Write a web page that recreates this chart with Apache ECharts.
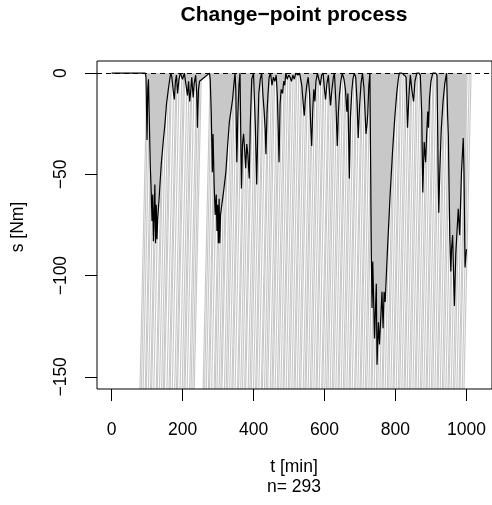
<!DOCTYPE html>
<html><head><meta charset="utf-8">
<script src="https://cdn.jsdelivr.net/npm/echarts@6/dist/echarts.min.js"></script>
<style>html,body{margin:0;padding:0;background:#fff}#c{width:492px;height:505px}</style>
</head><body><div id="c"></div>
<script>
// ---- data ----
const xTicks = [0, 200, 400, 600, 800, 1000];
const yTicks = [0, -50, -100, -150];
const titleText = 'Change\u2212point process';
const xName = 't [min]';
const nText = 'n= 293';
const yName = 's [Nm]';

// process s(t): [t (min), s (Nm)]
const processPoints = [
  [0,0],[30,0],[60,0],[85,0],[95,0],
  [97,-2],[100,-33],[102,-8],[104,-3],[106,-20],[109,-45],[112,-60],[114,-73],[116,-60],[118,-83],[120,-70],[122,-55],[124,-84],[126,-65],[128,-82],[130,-72],[134,-62],[140,-45],[146,-33],[150,-26],[155,-15],[160,-8],[164,-3],[167,0],
  [170,-2],[174,-9],[177,-13],[180,-4],[183,-1],[186,-10],[190,-3],[194,0],[200,-3],[205,0],[210,-6],[214,-11],[217,-4],[220,-14],[223,-9],[226,-2],[230,-12],[233,-5],[237,-1],[240,-10],[242,-27],[245,-8],[248,-4],[262,-2],[276,0],
  [278,-3],[281,-20],[284,-49],[286,-30],[289,-55],[292,-70],[295,-60],[297,-78],[299,-65],[301,-84],[303,-62],[305,-84],[307,-70],[310,-66],[316,-58],[322,-49],[327,-36],[332,-24],[337,-18],[341,-13],[345,-5],[348,0],
  [350,-8],[353,-44],[356,-20],[359,-6],[362,0],[366,-57],[369,-35],[372,-30],[375,-38],[378,-47],[381,-35],[384,-40],[388,-52],[391,-25],[395,-3],[400,0],[405,-25],[409,-55],[412,-30],[415,-10],[419,-3],[423,0],[427,-12],[430,-19],[433,-28],[435,-40],[438,-20],[441,-10],[444,-2],[448,0],[452,-6],[456,-2],[460,-4],[464,-1],[467,-11],[470,-30],[472,-44],[475,-15],[478,-8],[482,-10],[485,-4],[488,-6],[491,0],[495,-3],[499,-1],
  [503,-2],[507,-4],[511,-1],[515,-3],[519,0],[525,-1],[530,0],[536,-6],[540,-15],[543,-21],[546,-13],[550,-6],[554,-2],[558,-10],[561,-25],[564,-36],[567,-18],[570,-8],[573,-14],[576,-4],[580,0],[584,-3],[588,-6],[592,-1],[596,0],[600,-8],[603,-13],[607,-5],[611,-1],[614,-9],[617,-16],[621,-8],[625,-2],[628,0],[632,-14],[636,-36],[639,-20],[642,-11],[646,-4],[650,0],[655,-3],[659,-8],[663,-19],[666,-10],[670,-52],[673,-22],[677,-9],[680,-3],[684,0],[688,-2],[692,-15],[695,-32],[699,-16],[703,-5],[707,0],[711,-7],[714,-18],[717,-30],[720,-25],
  [722,-20],[725,-6],[728,0],[730,-45],[732,-90],[734,-116],[736,-93],[741,-131],[746,-104],[748,-144],[752,-123],[755,-134],[762,-108],[765,-126],[768,-108],[771,-113],[778,-85],[785,-60],[792,-38],[798,-22],[804,-9],[808,-3],[811,0],
  [818,0],[825,-1],[830,-2],[834,-27],[837,-15],[839,-8],[842,-1],[846,-8],[851,-14],[855,-4],[860,0],[866,0],[870,-1],[874,-20],[877,-59],[880,-40],[881,-34],[885,-44],[888,-30],[891,-19],[893,-27],[896,-12],[900,-4],[905,0],[913,0],[917,-1],[920,-44],[922,-69],[925,-48],[929,-28],[934,-14],[939,-5],[944,0],
  [947,-21],[949,-31],[953,-80],[956,-98],[958,-87],[961,-80],[966,-115],[970,-89],[977,-67],[981,-80],[986,-49],[991,-32],[993,-48],[996,-96],[1000,-87]
];

// times (min) at which the grey change-point strokes leave the lower edge
const strokeTimes = [
  80,84,89,95,98,104,110,113,119,126,129,135,141,146,149,156,162,165,171,178,183,186,193,199,204,207,213,220,224,229,233,
  258,262,267,273,276,282,289,292,297,303,308,311,318,323,327,333,339,342,348,355,358,364,369,375,378,385,390,394,400,406,409,415,422,425,431,436,440,447,452,455,461,467,471,477,483,486,492,498,502,508,514,517,523,529,533,540,545,548,554,560,564,570,576,579,585,592,595,601,606,610,616,622,626,632,638,641,647,653,657,663,669,672,678,685,688,694,700,703,709,715,719,725,731,734,740,746,750,756,762,765,771,777,781,787,793,796,802,808,812,818,824,827,833,839,843,849,855,858,864,870,874,880,886,889,895,901,905,911,917,920,926,932,936,942,948,951,957,963,967,973,979,982,988,993
];

// ---- layout / style ----
const X_MIN = -41, X_MAX = 1072, Y_MIN = -156, Y_MAX = 6;
const STROKE_SLANT = 20;
const GREY = '#c8c8c8';
const FONT = '"Liberation Sans", Arial, Helvetica, sans-serif';
const FS = 17.5;
const minus = v => String(v).replace('-', '\u2212');

const chart = echarts.init(document.getElementById('c'), null, {renderer: 'canvas'});
chart.setOption({
  animation: false,
  backgroundColor: '#fff',
  textStyle: {fontFamily: FONT},
  grid: {left: 97, top: 61, right: -2, bottom: 116, show: true, borderColor: '#000', borderWidth: 1, backgroundColor: 'transparent', z: 5},
  xAxis: {
    type: 'value', min: X_MIN, max: X_MAX, position: 'bottom', z: 5,
    splitLine: {show: false}, axisLine: {show: false, onZero: false},
    axisTick: {show: true, length: 12, lineStyle: {color: '#000', width: 1}, customValues: xTicks},
    axisLabel: {customValues: xTicks, fontSize: FS, color: '#000', margin: 32, fontFamily: FONT, formatter: minus}
  },
  yAxis: {
    type: 'value', min: Y_MIN, max: Y_MAX, position: 'left', z: 5,
    splitLine: {show: false}, axisLine: {show: false, onZero: false},
    axisTick: {show: true, length: 12, lineStyle: {color: '#000', width: 1}, customValues: yTicks},
    axisLabel: {customValues: yTicks, rotate: 90, fontSize: FS, color: '#000', margin: 27, fontFamily: FONT, formatter: minus}
  },
  graphic: [
    {type: 'text', x: 294, y: 15, style: {text: titleText, font: 'bold 21px ' + FONT, fill: '#000', textAlign: 'center', textVerticalAlign: 'middle'}},
    {type: 'text', x: 294, y: 467, style: {text: xName, font: FS + 'px ' + FONT, fill: '#000', textAlign: 'center', textVerticalAlign: 'middle'}},
    {type: 'text', x: 294, y: 487, style: {text: nText, font: FS + 'px ' + FONT, fill: '#000', textAlign: 'center', textVerticalAlign: 'middle'}},
    {type: 'text', x: 18, y: 227, rotation: Math.PI / 2, style: {text: yName, font: FS + 'px ' + FONT, fill: '#000', textAlign: 'center', textVerticalAlign: 'middle'}}
  ],
  series: [
    {
      type: 'custom', z: 1, clip: true,
      data: strokeTimes.map(t => [t, 0]),
      encode: {x: 0, y: 1},
      renderItem: function (params, api) {
        const t = api.value(0);
        const p0 = api.coord([t, Y_MIN]);
        const p1 = api.coord([t + STROKE_SLANT, 0]);
        return {type: 'line', shape: {x1: p0[0], y1: p0[1], x2: p1[0], y2: p1[1]}, style: {stroke: GREY, lineWidth: 1.15}};
      }
    },
    {
      type: 'line', z: 2, data: processPoints, showSymbol: false, symbol: 'none',
      lineStyle: {color: '#000', width: 1.2},
      areaStyle: {color: GREY, opacity: 1},
      markLine: {
        silent: true, symbol: 'none', label: {show: false},
        lineStyle: {color: '#000', width: 1, type: [5, 4]},
        data: [{yAxis: 0}]
      }
    }
  ]
});
</script></body></html>
